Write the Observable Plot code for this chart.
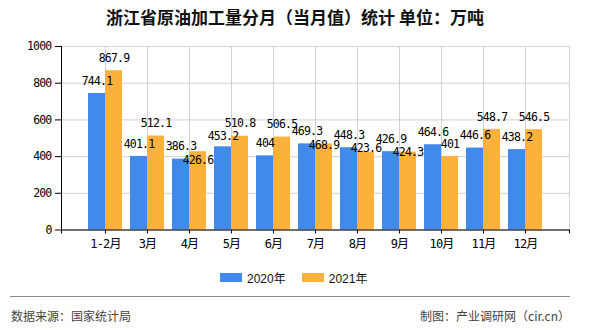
<!DOCTYPE html>
<html>
<head>
<meta charset="utf-8">
<script src="https://cdn.jsdelivr.net/npm/d3@7"></script>
<script src="https://cdn.jsdelivr.net/npm/@observablehq/plot@0.6"></script>
<style>
  html, body { margin: 0; padding: 0; background: #fff; }
  #wrap { position: relative; width: 590px; height: 330px; overflow: hidden; }
  #title { position: absolute; left: 0; top: 0; width: 590px; height: 34px; line-height: 34px; text-align: center;
    font-family: "Noto Sans CJK SC", sans-serif; font-size: 17px; font-weight: bold; color: #111; }
  #chart { position: absolute; left: 0; top: 34px; }
  #legend { position: absolute; left: 220px; top: 268px; height: 18px; display: flex; align-items: center;
    font-family: "Liberation Sans", "Noto Sans CJK SC", sans-serif; font-size: 12px; color: #111; }
  .sw { width: 22px; height: 9px; margin-right: 5px; }
  .item { display: flex; align-items: center; margin-right: 16px; }
  #rule { position: absolute; left: 10px; top: 296px; width: 560px; height: 0; border-top: 1.5px solid #8a8a8a; }
  .foot { position: absolute; top: 306px; height: 20px; line-height: 20px; font-family: "Noto Sans CJK SC", sans-serif;
    font-size: 12px; color: #444; }
</style>
</head>
<body>
<div id="wrap">
  <div id="title"></div>
  <div id="chart"></div>
  <div id="legend"></div>
  <div id="rule"></div>
  <div class="foot" id="src" style="left:11px"></div>
  <div class="foot" id="credit" style="right:20px"></div>
</div>
<script>
const titleText = "浙江省原油加工量分月（当月值）统计 单位：万吨";
const months = ["1-2月", "3月", "4月", "5月", "6月", "7月", "8月", "9月", "10月", "11月", "12月"];
const values2020 = [744.1, 401.1, 386.3, 453.2, 404, 469.3, 448.3, 426.9, 464.6, 446.6, 438.2];
const values2021 = [867.9, 512.1, 426.6, 510.8, 506.5, 468.9, 423.6, 424.3, 401, 548.7, 546.5];
const series = ["2020年", "2021年"];
const colors = ["#4189eb", "#fbb13c"];
const yTicks = [0, 200, 400, 600, 800, 1000];
const sourceText = "数据来源：国家统计局";
const creditText = "制图：产业调研网（cir.cn）";

document.getElementById("title").textContent = titleText;
document.getElementById("src").textContent = sourceText;
document.getElementById("credit").textContent = creditText;

const rows = months.map((m, i) => ({month: m, a: values2020[i], b: values2021[i]}));
// simple label collision handling between the two labels of a month
const near = 50, close = 70;
const blueDown = rows.filter(d => d.b - d.a >= near && d.b - d.a < close);
const blueStd = rows.filter(d => !(d.b - d.a >= near && d.b - d.a < close));
const orangeStd = rows.filter(d => Math.abs(d.b - d.a) >= near);
const orangeDown = rows.filter(d => Math.abs(d.b - d.a) < near);

const labelFont = "'DejaVu Sans Mono', 'Noto Sans CJK SC', monospace";

const axisLines = (...args) => {
  const dims = args.find(a => a && typeof a === "object" && "marginLeft" in a && "width" in a);
  const g = d3.create("svg:g").attr("stroke", "#000").attr("fill", "none");
  if (!dims) return g.node();
  const {width, height, marginLeft, marginRight, marginTop, marginBottom} = dims;
  const yb = height - marginBottom;
  g.append("line").attr("x1", marginLeft + 0.5).attr("x2", marginLeft + 0.5)
    .attr("y1", marginTop).attr("y2", yb + 4);
  g.append("line").attr("x1", width - marginRight + 0.5).attr("x2", width - marginRight + 0.5)
    .attr("y1", yb).attr("y2", yb + 4);
  return g.node();
};

const txt = {fontSize: 11.5, fontFamily: labelFont, fill: "#000"};

const chart = Plot.plot({
  width: 590,
  height: 222,
  marginLeft: 61,
  marginRight: 21,
  marginTop: 12,
  marginBottom: 26.5,
  style: {background: "transparent", overflow: "visible"},
  x: {type: "band", domain: months, paddingInner: 0.194, paddingOuter: 0.597, align: 0.5, label: null},
  y: {domain: [0, 1000], label: null},
  marks: [
    Plot.gridY(yTicks, {stroke: "#d2d2d2", strokeOpacity: 1}),
    Plot.gridX(months, {stroke: "#d2d2d2", strokeOpacity: 1}),
    Plot.frame({stroke: "#d2d2d2"}),
    Plot.barY(rows, {x: "month", y: "a", fill: colors[0], insetLeft: 0, insetRight: 17}),
    Plot.barY(rows, {x: "month", y: "b", fill: colors[1], insetLeft: 17, insetRight: 0}),
    Plot.ruleY([0], {stroke: "#000"}),
    Plot.axisY({ticks: yTicks, tickFormat: d => String(d), tickSize: 6, tickPadding: 4,
      fontSize: 11.5, fontFamily: labelFont, label: null}),
    Plot.axisX({tickSize: 4, tickPadding: 5, fontSize: 12, fontFamily: labelFont, label: null}),
    axisLines,
    Plot.text(blueStd, {x: "month", y: "a", text: d => String(d.a), dx: -8.5, dy: -12.5, ...txt}),
    Plot.text(blueDown, {x: "month", y: "b", text: d => String(d.a), dx: -8.5, dy: 0, ...txt}),
    Plot.text(orangeStd, {x: "month", y: "b", text: d => String(d.b), dx: 8.5, dy: -12.5, ...txt}),
    Plot.text(orangeDown, {x: "month", y: "a", text: d => String(d.b), dx: 8.5, dy: 1, ...txt})
  ]
});
chart.style.letterSpacing = "-0.8px";
document.getElementById("chart").appendChild(chart);

const legend = document.getElementById("legend");
series.forEach((s, i) => {
  const item = document.createElement("div");
  item.className = "item";
  const sw = document.createElement("div");
  sw.className = "sw";
  sw.style.background = colors[i];
  const lab = document.createElement("span");
  lab.textContent = s;
  item.appendChild(sw);
  item.appendChild(lab);
  legend.appendChild(item);
});
</script>
</body>
</html>
